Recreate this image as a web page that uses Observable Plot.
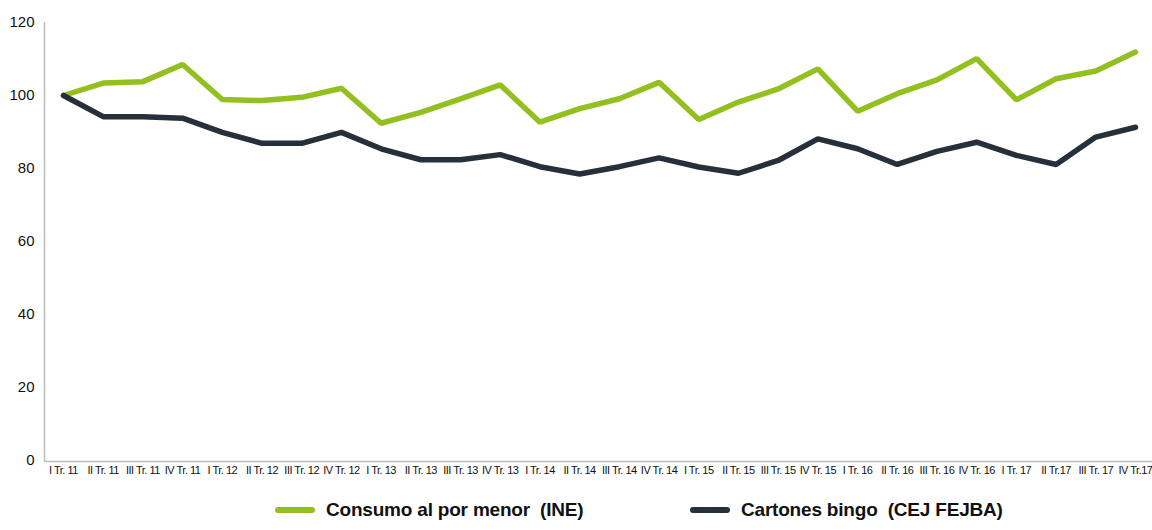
<!DOCTYPE html>
<html>
<head>
<meta charset="utf-8">
<script src="https://cdn.jsdelivr.net/npm/d3@7"></script>
<script src="https://cdn.jsdelivr.net/npm/@observablehq/plot@0.6"></script>
<style>
  body { margin: 0; background: #fff; font-family: "Liberation Sans", Arial, sans-serif; }
  #chart { width: 1152px; height: 490px; }
  #legend { position: relative; width: 1152px; height: 40px; }
  .item { position: absolute; top: 9px; display: flex; align-items: center; font-size: 19px; font-weight: bold; color: #111; letter-spacing: -0.2px; }
  .sw { width: 40px; height: 6px; border-radius: 3px; margin-right: 11px; }
  #chart svg g[aria-label="x-axis tick label"] text { letter-spacing: -0.5px; }
</style>
</head>
<body>
<div id="chart"></div>
<div id="legend">
  <div class="item" style="left:275px"><span class="sw" style="background:#93c01f"></span>Consumo al por menor&nbsp;&nbsp;(INE)</div>
  <div class="item" style="left:690px"><span class="sw" style="background:#26303b"></span>Cartones bingo&nbsp;&nbsp;(CEJ FEJBA)</div>
</div>
<script>
const quarters = [
  "I Tr. 11","II Tr. 11","III Tr. 11","IV Tr. 11",
  "I Tr. 12","II Tr. 12","III Tr. 12","IV Tr. 12",
  "I Tr. 13","II Tr. 13","III Tr. 13","IV Tr. 13",
  "I Tr. 14","II Tr. 14","III Tr. 14","IV Tr. 14",
  "I Tr. 15","II Tr. 15","III Tr. 15","IV Tr. 15",
  "I Tr. 16","II Tr. 16","III Tr. 16","IV Tr. 16",
  "I Tr. 17","II Tr.17","III Tr. 17","IV Tr.17"
];
const consumo = [100,103.4,103.8,108.5,98.9,98.6,99.5,102.0,92.4,95.4,99.1,102.9,92.7,96.4,99.1,103.6,93.4,98.2,101.8,107.3,95.7,100.5,104.3,110.1,98.8,104.6,106.7,111.9];
const cartones = [100,94.2,94.2,93.8,89.9,86.9,86.9,89.9,85.4,82.4,82.4,83.8,80.5,78.5,80.5,82.9,80.4,78.7,82.2,88.1,85.4,81.1,84.7,87.2,83.6,81.1,88.6,91.3];
const yTicks = [0,20,40,60,80,100,120];
const seriesNames = ["Consumo al por menor (INE)", "Cartones bingo (CEJ FEJBA)"];
const seriesColors = ["#93c01f", "#26303b"];

const data = [
  ...quarters.map((q, i) => ({q, v: consumo[i], s: seriesNames[0]})),
  ...quarters.map((q, i) => ({q, v: cartones[i], s: seriesNames[1]}))
];

const chart = Plot.plot({
  width: 1152,
  height: 490,
  marginLeft: 44,
  marginRight: 0,
  marginTop: 22,
  marginBottom: 30,
  style: {fontFamily: "'Liberation Sans', Arial, sans-serif", background: "#fff"},
  x: {type: "point", domain: quarters, padding: 0, round: false, insetLeft: 19, insetRight: 17},
  y: {domain: [0, 120], ticks: yTicks},
  color: {domain: seriesNames, range: seriesColors},
  marks: [
    Plot.frame({anchor: "left", stroke: "#bbb", strokeWidth: 1.5, strokeOpacity: 1}),
    Plot.ruleY([0], {stroke: "#bbb", strokeWidth: 1.5, dy: 1}),
    Plot.axisY({ticks: yTicks, tickSize: 0, tickPadding: 10, fontSize: 15, fill: "#111", label: null}),
    Plot.axisX({tickSize: 0, tickPadding: 6, fontSize: 11, fill: "#111", label: null}),
    Plot.line(data, {x: "q", y: "v", z: "s", stroke: "s", strokeWidth: 5.5, strokeLinejoin: "miter", strokeLinecap: "round"})
  ]
});
document.getElementById("chart").appendChild(chart);
</script>
</body>
</html>
